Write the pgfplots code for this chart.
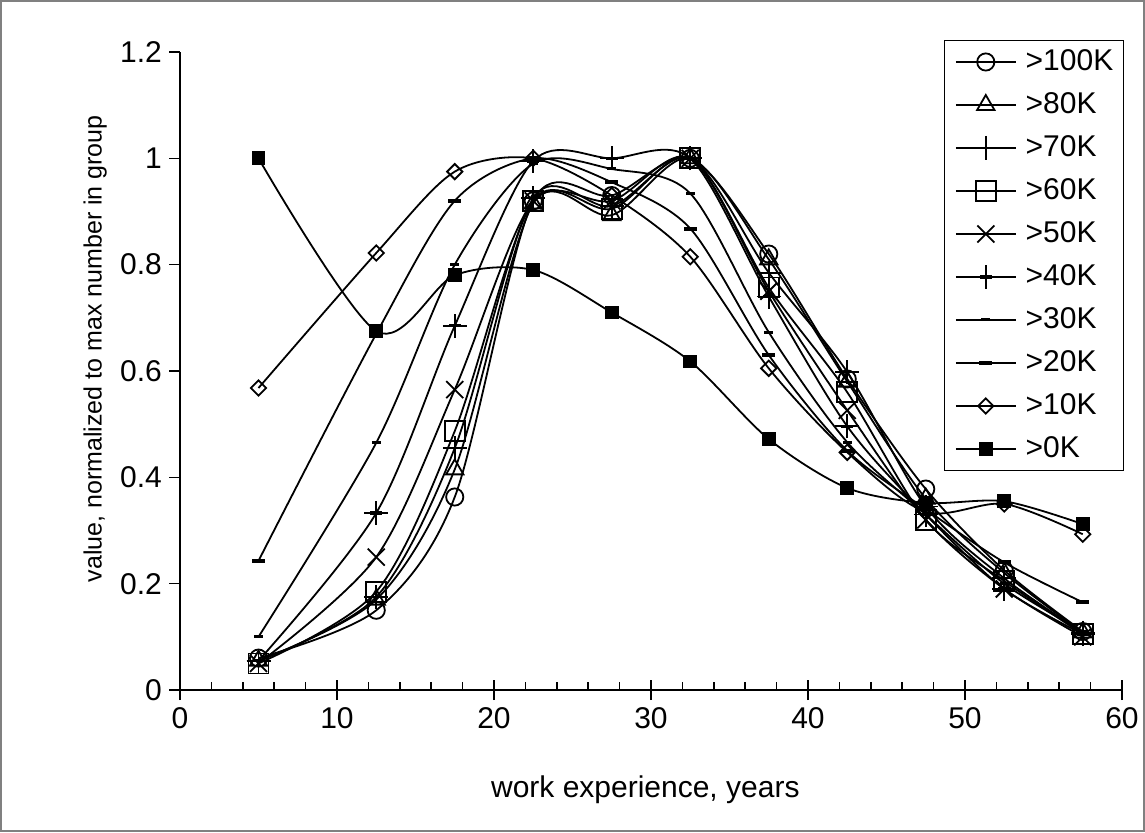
\documentclass[border=0pt]{standalone}
\usepackage{fontspec}
\setmainfont{Liberation Sans}
\usepackage{pgfplots}
\pgfplotsset{compat=1.18}
\usepackage{pgfplotstable}

\pgfdeclareplotmark{plusbar}{%
  \pgfpathmoveto{\pgfqpoint{-\pgfplotmarksize}{0pt}}%
  \pgfpathlineto{\pgfqpoint{\pgfplotmarksize}{0pt}}%
  \pgfpathmoveto{\pgfqpoint{0pt}{-\pgfplotmarksize}}%
  \pgfpathlineto{\pgfqpoint{0pt}{\pgfplotmarksize}}%
  \pgfusepathqstroke
  \pgfpathrectangle{\pgfqpoint{-0.5\pgfplotmarksize}{-0.8pt}}{\pgfqpoint{\pgfplotmarksize}{1.6pt}}%
  \pgfusepathqfill}
\pgfdeclareplotmark{dashA}{%
  \pgfpathrectangle{\pgfqpoint{-2.25pt}{-0.75pt}}{\pgfqpoint{4.5pt}{1.5pt}}%
  \pgfusepathqfill}
\pgfdeclareplotmark{dashB}{%
  \pgfpathrectangle{\pgfqpoint{-3.25pt}{-1pt}}{\pgfqpoint{6.5pt}{2pt}}%
  \pgfusepathqfill}

\pgfplotsset{
  legend image code/.code={%
    \path[draw=none, fill=none] (0pt,-6.5pt) -- (0pt,6.5pt);
    \draw[mark repeat=2,mark phase=2,#1] plot coordinates {(0pt,0pt) (15pt,0pt) (30pt,0pt)};},
  every tick label/.append style={font=\fontsize{15}{18}\selectfont},
  /pgf/number format/assume math mode=true,
  ser/.style={black, line width=0.9pt, smooth, mark options={solid, fill=white, line width=0.9pt}},
}

\pgfplotstableread{
x    k100  k80   k70   k60   k50   k40   k30   k20   k10   k0
5    0.060 0.055 0.055 0.050 0.050 0.055 0.100 0.243 0.568 1.000
12.5 0.150 0.170 0.175 0.185 0.250 0.333 0.465 0.670 0.822 0.675
17.5 0.363 0.415 0.455 0.487 0.565 0.685 0.800 0.920 0.975 0.780
22.5 0.920 0.915 0.925 0.920 0.920 0.995 0.990 1.000 1.000 0.790
27.5 0.930 0.893 0.910 0.905 0.920 1.000 0.980 0.955 0.930 0.710
32.5 1.000 1.000 1.000 1.000 1.000 1.000 0.934 0.868 0.815 0.618
37.5 0.820 0.810 0.785 0.757 0.750 0.740 0.673 0.630 0.605 0.472
42.5 0.585 0.580 0.598 0.560 0.526 0.496 0.466 0.450 0.447 0.380
47.5 0.378 0.360 0.345 0.320 0.320 0.330 0.330 0.340 0.335 0.352
52.5 0.225 0.220 0.210 0.205 0.190 0.190 0.200 0.240 0.350 0.355
57.5 0.110 0.108 0.108 0.105 0.100 0.105 0.110 0.165 0.293 0.312
}\datatable

\begin{document}
\begin{tikzpicture}
\useasboundingbox (0pt,0pt) rectangle (572.5pt,416pt);
\draw[gray, line width=1pt] (0.5pt,0.5pt) rectangle (572pt,415.5pt);

% axis for the x axis line, ticks and label
\begin{axis}[
  at={(90pt,71pt)}, anchor=south west, scale only axis,
  width=471pt, height=319pt,
  xmin=0, xmax=60, ymin=0, ymax=1.2,
  axis x line*=bottom, axis y line=none,
  axis line style={line width=0.8pt, -},
  xtick={0,10,...,60}, minor x tick num=4,
  xtick align=center, major tick length=10pt, minor tick length=4pt,
  minor x tick style={yshift=2pt},
  every tick/.style={black, line width=0.8pt},
  xticklabel style={anchor=center, yshift=-9pt},
  xlabel={work experience, years},
  xlabel style={font=\fontsize{15}{18}\selectfont, at={(axis description cs:0.494,-0.157)}, anchor=center},
]
\addplot[draw=none] coordinates {(0,0)};
\end{axis}

% main axis
\begin{axis}[
  at={(90pt,71pt)}, anchor=south west, scale only axis,
  width=471pt, height=319pt,
  xmin=0, xmax=60, ymin=0, ymax=1.2,
  axis y line*=left, axis x line=none,
  axis line style={line width=0.8pt, -},
  ytick={0,0.2,...,1.2},
  ytick align=outside, major tick length=5.5pt,
  every tick/.style={black, line width=0.8pt},
  yticklabel style={/pgf/number format/fixed},
  ylabel={value, normalized to max number in group},
  ylabel style={font=\fontsize{12.5}{15}\selectfont, at={(axis description cs:-0.0902,0.535)}, anchor=center},
  legend style={at={(1.002,1.019)}, anchor=north east, draw=black, line width=0.6pt,
    fill=white, font=\fontsize{15}{18}\selectfont,
    inner xsep=5pt, inner ysep=4.25pt, row sep=8.5pt,
    nodes={inner sep=0pt},
    /tikz/every odd column/.append style={column sep=4.5pt}},
  legend cell align=left,
]
\addplot[ser, mark=o, mark size=4.3pt] table[x=x, y=k100] {\datatable};
\addlegendentry{>100K}
\addplot[ser, mark=triangle, mark size=5pt] table[x=x, y=k80] {\datatable};
\addlegendentry{>80K}
\addplot[ser, mark=+, mark size=6pt] table[x=x, y=k70] {\datatable};
\addlegendentry{>70K}
\addplot[ser, mark=square, mark size=5pt] table[x=x, y=k60] {\datatable};
\addlegendentry{>60K}
\addplot[ser, mark=x, mark size=6pt] table[x=x, y=k50] {\datatable};
\addlegendentry{>50K}
\addplot[ser, mark=plusbar, mark size=6pt, mark options={fill=black}] table[x=x, y=k40] {\datatable};
\addlegendentry{>40K}
\addplot[ser, mark=dashA, mark options={fill=black}] table[x=x, y=k30] {\datatable};
\addlegendentry{>30K}
\addplot[ser, mark=dashB, mark options={fill=black}] table[x=x, y=k20] {\datatable};
\addlegendentry{>20K}
\addplot[ser, mark=square, mark size=2.7pt, mark options={rotate=45}] table[x=x, y=k10] {\datatable};
\addlegendentry{>10K}
\addplot[ser, mark=square*, mark size=3pt, mark options={fill=black}] table[x=x, y=k0] {\datatable};
\addlegendentry{>0K}
\end{axis}
\end{tikzpicture}
\end{document}
